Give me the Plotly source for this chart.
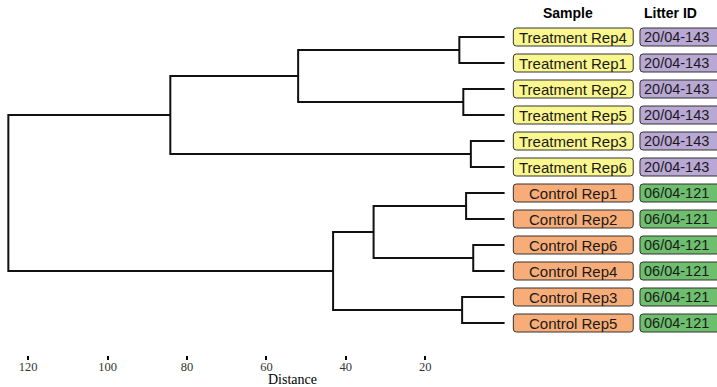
import plotly.graph_objects as go

# ---------------- data ----------------
leaves = ["Treatment Rep4", "Treatment Rep1", "Treatment Rep2", "Treatment Rep5",
          "Treatment Rep3", "Treatment Rep6", "Control Rep1", "Control Rep2",
          "Control Rep6", "Control Rep4", "Control Rep3", "Control Rep5"]
litter_ids = ["20/04-143"] * 6 + ["06/04-121"] * 6
groups = ["Treatment"] * 6 + ["Control"] * 6

# linkage: node ids 0..11 are leaves, new nodes get ids 12, 13, ...
merge_left = [0, 2, 4, 12, 15, 6, 8, 10, 17, 20, 16]
merge_right = [1, 3, 5, 13, 14, 7, 9, 11, 18, 19, 21]
merge_height = [11.4, 10.4, 8.5, 52.0, 84.2, 9.7, 7.9, 10.7, 33.0, 43.2, 125.0]

tick_vals = [120, 100, 80, 60, 40, 20]
tick_text = ["120", "100", "80", "60", "40", "20"]

sample_fill = {"Treatment": "#FAF78E", "Control": "#F8AD78"}
litter_fill = {"20/04-143": "#B9A8D4", "06/04-121": "#6DBE6D"}

# ---------------- style ----------------
W, H = 717, 387
X_RANGE = [127.1, -53.5]
Y_RANGE = [12.2308, -1.4231]
px_per_x = W / (X_RANGE[0] - X_RANGE[1])
px_per_y = 355 / (Y_RANGE[0] - Y_RANGE[1])

# ---------------- dendrogram segments ----------------
n = len(leaves)
node_x = [0.0] * n
node_y = [float(i) for i in range(n)]
xs, ys = [], []
for l, r, h in zip(merge_left, merge_right, merge_height):
    xl, yl = node_x[l], node_y[l]
    xr, yr = node_x[r], node_y[r]
    xs += [xl, h, h, xr, None]
    ys += [yl, yl, yr, yr, None]
    node_x.append(h)
    node_y.append((yl + yr) / 2)

fig = go.Figure()
fig.add_trace(go.Scatter(x=xs, y=ys, mode="lines",
                         line=dict(color="#111111", width=2),
                         hoverinfo="skip", showlegend=False))


def rounded(x0, x1, y0, y1, rpx=3):
    rx = rpx / px_per_x
    ry = rpx / px_per_y
    return (f"M {x0+rx},{y0} L {x1-rx},{y0} Q {x1},{y0} {x1},{y0+ry} "
            f"L {x1},{y1-ry} Q {x1},{y1} {x1-rx},{y1} L {x0+rx},{y1} "
            f"Q {x0},{y1} {x0},{y1-ry} L {x0},{y0+ry} Q {x0},{y0} {x0+rx},{y0} Z")


shapes = []
annotations = []
half_h = 9 / px_per_y
s_x0, s_x1 = -32.4, -2.2
l_x0, l_x1 = -58.0, -34.1
for i, (name, lid, g) in enumerate(zip(leaves, litter_ids, groups)):
    shapes.append(dict(type="path", xref="x", yref="y",
                       path=rounded(s_x0, s_x1, i - half_h, i + half_h),
                       fillcolor=sample_fill[g],
                       line=dict(color="#333333", width=1), layer="above"))
    shapes.append(dict(type="path", xref="x", yref="y",
                       path=rounded(l_x0, l_x1, i - half_h, i + half_h),
                       fillcolor=litter_fill[lid],
                       line=dict(color="#333333", width=1), layer="above"))
    annotations.append(dict(x=(s_x0 + s_x1) / 2, y=i, xref="x", yref="y",
                            text=name, showarrow=False, xanchor="center",
                            yanchor="middle",
                            font=dict(family="Liberation Sans, Arial", size=15,
                                      color="#1a1a1a")))
    annotations.append(dict(x=l_x1 - 0.5, y=i, xref="x", yref="y",
                            text=lid, showarrow=False, xanchor="left",
                            yanchor="middle",
                            font=dict(family="Liberation Sans, Arial", size=14.5,
                                      color="#1a1a1a")))

header_y = -0.92
annotations.append(dict(x=-16.0, y=header_y, xref="x", yref="y", text="<b>Sample</b>",
                        showarrow=False, xanchor="center", yanchor="middle",
                        font=dict(family="Liberation Sans, Arial", size=14, color="#000")))
annotations.append(dict(x=-41.9, y=header_y, xref="x", yref="y", text="<b>Litter ID</b>",
                        showarrow=False, xanchor="center", yanchor="middle",
                        font=dict(family="Liberation Sans, Arial", size=14, color="#000")))
annotations.append(dict(x=53.4, y=-0.068, xref="x", yref="paper", text="Distance",
                        showarrow=False, xanchor="center", yanchor="middle",
                        font=dict(family="Liberation Serif, Times New Roman", size=14,
                                  color="#000")))

fig.update_layout(
    width=W, height=H,
    margin=dict(l=0, r=0, t=0, b=32, pad=0),
    paper_bgcolor="white", plot_bgcolor="white",
    shapes=shapes, annotations=annotations,
    xaxis=dict(range=X_RANGE, tickvals=tick_vals, ticktext=tick_text,
               ticks="outside", ticklen=4, tickwidth=2, tickcolor="#000",
               ticklabelstandoff=-4,
               showgrid=False, zeroline=False, showline=False,
               tickfont=dict(family="Liberation Serif, Times New Roman", size=12.5,
                             color="#333")),
    yaxis=dict(range=Y_RANGE, showticklabels=False, ticks="", showgrid=False,
               zeroline=False, showline=False),
)

fig.write_html("out.html", config={"displayModeBar": False},
               post_script="document.body.style.margin='0px';")
